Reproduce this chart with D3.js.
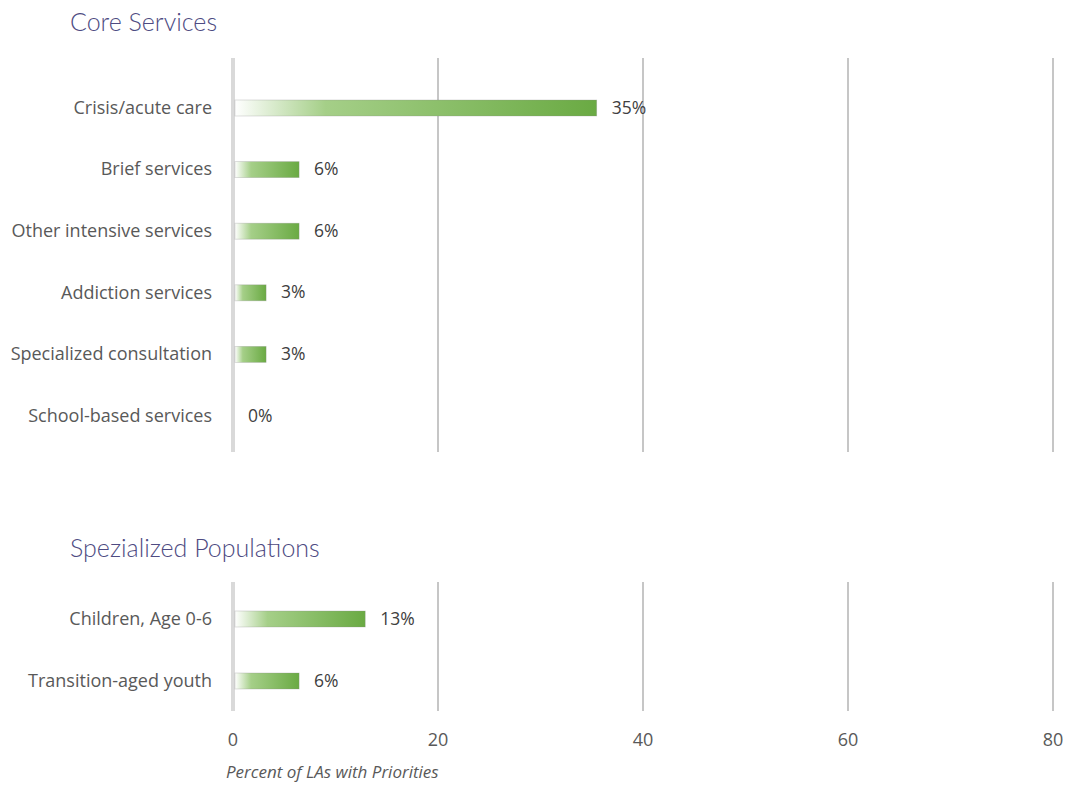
<!DOCTYPE html>
<html><head><meta charset="utf-8">
<script src="https://cdn.jsdelivr.net/npm/d3@7"></script>
<style>
html,body{margin:0;padding:0;background:#fff;}
svg{display:block;}
</style></head>
<body>
<svg id="chart" width="1069" height="785"></svg>
<script>
// Data
const coreCategories = ["Crisis/acute care","Brief services","Other intensive services","Addiction services","Specialized consultation","School-based services"];
const coreValues = [35.48, 6.45, 6.45, 3.23, 3.23, 0];
const coreLabels = ["35%","6%","6%","3%","3%","0%"];
const popCategories = ["Children, Age 0-6","Transition-aged youth"];
const popValues = [12.9, 6.45];
const popLabels = ["13%","6%"];
const xTicks = [0,20,40,60,80];
const titles = ["Core Services","Spezialized Populations"];
const axisTitle = "Percent of LAs with Priorities";

const svg = d3.select("#chart");
const x = d3.scaleLinear().domain([0,80]).range([233,1053]);

const defs = svg.append("defs");
const grad = defs.append("linearGradient").attr("id","barGrad")
  .attr("x1","0%").attr("x2","100%").attr("y1","0").attr("y2","0");
grad.append("stop").attr("offset","0%").attr("stop-color","#ffffff");
grad.append("stop").attr("offset","25%").attr("stop-color","#a5cf88");
grad.append("stop").attr("offset","100%").attr("stop-color","#6aaa43");

const labelFont = "'Open Sans', 'Noto Sans', sans-serif";

function panel(cats, vals, labs, top, bottom, firstY, step, title, titleY){
  const g = svg.append("g");
  const y = d3.scalePoint().domain(cats).range([firstY, firstY + step*(cats.length-1)]);
  // gridlines
  g.selectAll("line.grid").data(xTicks.slice(1)).join("line")
    .attr("x1", d=>x(d)).attr("x2", d=>x(d))
    .attr("y1", top).attr("y2", bottom)
    .attr("stroke","#c6c6c6").attr("stroke-width",2);
  // axis line
  g.append("line").attr("x1",x(0)).attr("x2",x(0)).attr("y1",top).attr("y2",bottom)
    .attr("stroke","#d9d9d9").attr("stroke-width",4);
  // bars
  const bh = 16;
  g.selectAll("rect.bar").data(vals).join("rect")
    .attr("x", x(0)+2).attr("y",(d,i)=>y(cats[i])-bh/2)
    .attr("width", d=>Math.max(0, x(d)-x(0)-2)).attr("height", bh)
    .attr("fill","url(#barGrad)")
    .attr("stroke", "rgba(140,140,140,0.35)").attr("stroke-width",0.8);
  // value labels
  g.selectAll("text.val").data(vals).join("text")
    .attr("x", d=>x(d)+15).attr("y",(d,i)=>y(cats[i])+1)
    .attr("dominant-baseline","middle")
    .attr("font-family",labelFont).attr("font-size",17.5).attr("fill","#404040")
    .text((d,i)=>labs[i]);
  // category labels
  g.selectAll("text.cat").data(cats).join("text")
    .attr("x", 212).attr("y", d=>y(d)+1)
    .attr("text-anchor","end").attr("dominant-baseline","middle")
    .attr("font-family",labelFont).attr("font-size",18).attr("fill","#595959")
    .text(d=>d);
  // title
  svg.append("text").attr("x",70).attr("y",titleY)
    .attr("font-family","Lato, sans-serif").attr("font-weight",300)
    .attr("font-size",25).attr("fill","#4e4b82")
    .text(title);
}

panel(coreCategories, coreValues, coreLabels, 58, 452, 108, 61.6, titles[0], 31);
panel(popCategories, popValues, popLabels, 582, 711, 619, 62, titles[1], 557);

// x axis tick labels
svg.selectAll("text.tick").data(xTicks).join("text")
  .attr("x", d=>x(d)).attr("y", 741)
  .attr("text-anchor","middle").attr("dominant-baseline","middle")
  .attr("font-family",labelFont).attr("font-size",18).attr("fill","#595959")
  .text(d=>d);
svg.append("text").attr("x",226).attr("y",773)
  .attr("dominant-baseline","middle")
  .attr("font-family",labelFont).attr("font-style","italic").attr("font-size",17).attr("fill","#595959")
  .text(axisTitle);
</script>
</body></html>
